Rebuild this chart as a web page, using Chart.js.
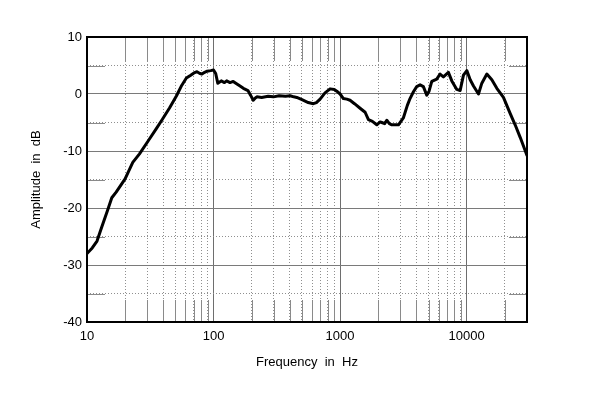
<!DOCTYPE html>
<html>
<head>
<meta charset="utf-8">
<script src="https://cdn.jsdelivr.net/npm/chart.js@4"></script>
<style>
  body { margin: 0; background: #fff; }
</style>
</head>
<body>
<canvas id="freqChart" width="600" height="405"></canvas>
<script>
const freqHz = [
  10, 11, 12, 13, 14.5, 15.7, 17, 20, 23, 26, 30.5, 35, 39, 45, 51, 56, 61, 66, 70, 74,
  78, 81, 85, 89, 95, 100, 104, 108, 115, 122, 127, 135, 143, 152, 162, 172, 187, 196, 206, 214,
  220, 240, 270, 297, 330, 370, 403, 430, 455, 500, 560, 615, 650, 695, 760, 834, 900, 942, 1000, 1062,
  1130, 1199, 1300, 1439, 1577, 1675, 1800, 1950, 2071, 2137, 2250, 2339, 2450, 2563, 2893, 3162, 3400, 3571, 3800, 4033,
  4287, 4552, 4840, 5050, 5304, 5807, 6168, 6551, 7177, 7636, 8362, 8885, 9440, 10040, 10670, 11330, 12410, 13190, 14450, 15820,
  17330, 19540, 22070, 24170, 26500, 30000
];
const ampDb = [
  -28.0, -27.0, -25.8, -23.5, -20.5, -18.2, -17.2, -14.9, -12.0, -10.5, -8.2, -6.2, -4.6, -2.4, -0.3, 1.5, 2.8, 3.3, 3.7, 3.9,
  3.6, 3.5, 3.8, 4.0, 4.1, 4.2, 3.6, 1.9, 2.3, 2.0, 2.3, 2.0, 2.2, 1.8, 1.4, 1.0, 0.6, -0.2, -1.1, -0.7,
  -0.5, -0.6, -0.4, -0.5, -0.3, -0.4, -0.3, -0.5, -0.6, -1.0, -1.5, -1.7, -1.5, -0.9, 0.2, 0.9, 0.8, 0.5, 0.0, -0.8,
  -0.9, -1.1, -1.7, -2.5, -3.2, -4.5, -4.8, -5.4, -4.9, -5.0, -5.2, -4.6, -5.2, -5.4, -5.4, -4.2, -2.0, -0.8, 0.4, 1.3,
  1.6, 1.3, -0.2, 0.5, 2.2, 2.6, 3.5, 3.0, 3.8, 2.3, 0.8, 0.6, 3.3, 4.1, 2.5, 1.4, 0.0, 1.9, 3.5, 2.5,
  1.0, -0.6, -3.4, -5.4, -7.6, -10.8
];

const xTicks = [10, 20, 30, 40, 50, 60, 70, 80, 90, 100, 200, 300, 400, 500, 600, 700, 800, 900,
  1000, 2000, 3000, 4000, 5000, 6000, 7000, 8000, 9000, 10000, 20000, 30000];
const xLabels = [10, 100, 1000, 10000];
const yMin = -40, yMax = 10;

const isDecade = v => xLabels.includes(v);
const isMajorY = v => v % 10 === 0;

// border box + short solid stubs at the ends of the dotted lines
const frame = {
  id: 'frame',
  beforeDatasetsDraw(chart) {
    const { ctx, chartArea: a, scales: { x, y } } = chart;
    ctx.save();
    ctx.strokeStyle = '#8a8a8a';
    ctx.lineWidth = 1;
    ctx.beginPath();
    xTicks.forEach(v => {
      if (isDecade(v) || v === 30000) return;
      const px = Math.round(x.getPixelForValue(v)) + 0.5;
      ctx.moveTo(px, a.top); ctx.lineTo(px, a.top + 24);
      ctx.moveTo(px, a.bottom - 22); ctx.lineTo(px, a.bottom);
    });
    y.ticks.forEach(t => {
      if (isMajorY(t.value)) return;
      const py = Math.round(y.getPixelForValue(t.value)) + 0.5;
      ctx.moveTo(a.left, py); ctx.lineTo(a.left + 18, py);
      ctx.moveTo(a.right - 18, py); ctx.lineTo(a.right, py);
    });
    ctx.stroke();
    ctx.restore();
  },
  afterDraw(chart) {
    const { ctx, chartArea: a } = chart;
    ctx.save();
    ctx.strokeStyle = '#000';
    ctx.lineWidth = 2;
    ctx.strokeRect(a.left, a.top, a.right - a.left, a.bottom - a.top);
    ctx.restore();
  }
};

new Chart(document.getElementById('freqChart').getContext('2d'), {
  type: 'line',
  data: {
    datasets: [{
      data: freqHz.map((f, i) => ({ x: f, y: ampDb[i] })),
      borderColor: '#000',
      borderWidth: 3,
      borderJoinStyle: 'round',
      borderCapStyle: 'round',
      pointRadius: 0,
      tension: 0,
      fill: false
    }]
  },
  options: {
    responsive: false,
    animation: false,
    layout: { padding: { top: 37, right: 73, left: 0, bottom: 0 } },
    plugins: { legend: { display: false }, tooltip: { enabled: false } },
    scales: {
      x: {
        type: 'logarithmic',
        min: 10,
        max: 30000,
        afterBuildTicks: s => { s.ticks = xTicks.map(v => ({ value: v })); },
        afterFit: s => { s.height = 83; },
        ticks: {
          autoSkip: false,
          maxRotation: 0,
          padding: 7,
          color: '#000',
          font: { family: 'Liberation Sans, Arial, sans-serif', size: 13 },
          callback: v => (isDecade(v) ? String(v) : '')
        },
        grid: {
          drawTicks: false,
          lineWidth: 1,
          color: c => (isDecade(c.tick && c.tick.value) ? '#6e6e6e' : '#8f8f8f')
        },
        border: {
          display: false,
          dash: c => (isDecade(c.tick && c.tick.value) ? [] : [1, 2])
        },
        title: {
          display: true,
          text: 'Frequency  in  Hz',
          color: '#000',
          font: { family: 'Liberation Sans, Arial, sans-serif', size: 13 },
          padding: { top: 0, bottom: 35 }
        }
      },
      y: {
        min: yMin,
        max: yMax,
        afterFit: s => { s.width = 87; },
        ticks: {
          stepSize: 5,
          padding: 5,
          color: '#000',
          font: { family: 'Liberation Sans, Arial, sans-serif', size: 13 },
          callback: v => (isMajorY(v) ? String(v) : '')
        },
        grid: {
          drawTicks: false,
          lineWidth: 1,
          color: c => (isMajorY(c.tick && c.tick.value) ? '#7a7a7a' : '#8f8f8f')
        },
        border: {
          display: false,
          dash: c => (isMajorY(c.tick && c.tick.value) ? [] : [1, 2])
        },
        title: {
          display: true,
          text: 'Amplitude  in  dB',
          color: '#000',
          font: { family: 'Liberation Sans, Arial, sans-serif', size: 13 },
          padding: { top: 29, bottom: 0 }
        }
      }
    }
  },
  plugins: [frame]
});
</script>
</body>
</html>
